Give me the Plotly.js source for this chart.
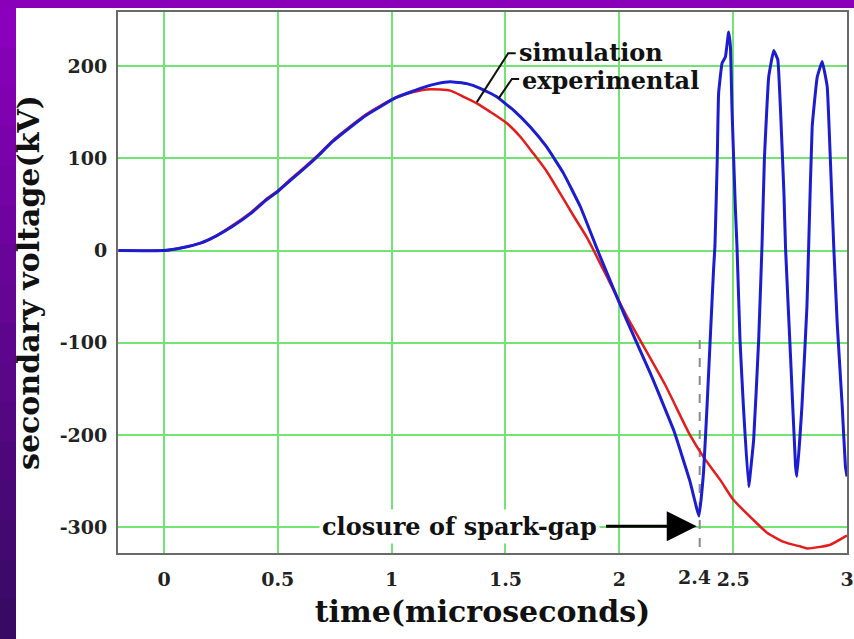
<!DOCTYPE html>
<html>
<head>
<meta charset="utf-8">
<script src="https://cdn.plot.ly/plotly-3.0.1.min.js"></script>
<style>html,body{margin:0;padding:0;background:#8a00b8;}#chart{width:854px;height:639px;}</style>
</head>
<body>
<div id="chart"></div>
<script>
// ---- data ----
const simT = [-0.2, 0, 0.08, 0.16, 0.23, 0.30, 0.38, 0.45, 0.50, 0.55, 0.63, 0.67, 0.74, 0.82, 0.89, 0.95, 1.02, 1.095, 1.17, 1.257, 1.314, 1.374, 1.433, 1.506, 1.565, 1.622, 1.682, 1.74, 1.798, 1.858, 1.9, 2.03, 2.2, 2.31, 2.37, 2.444, 2.5, 2.605, 2.649, 2.722, 2.796, 2.825, 2.927, 2.993, 3.0];
const simV = [0, 0, 3, 8, 16, 27, 41, 56, 65, 76, 93, 102, 119, 135, 148, 157, 166, 172, 175, 173.4, 167, 159.6, 150.4, 138, 123.4, 105.4, 85.5, 62, 38, 14, -6, -70, -145, -200, -224, -249, -270, -296, -306, -316, -321, -323, -319, -310, -309];

const expT = [-0.2, 0, 0.08, 0.16, 0.23, 0.30, 0.38, 0.45, 0.50, 0.55, 0.63, 0.67, 0.74, 0.82, 0.89, 0.95, 1.02, 1.14, 1.2, 1.257, 1.33, 1.389, 1.46, 1.536, 1.609, 1.68, 1.755, 1.829, 1.887, 1.91, 2.026, 2.136, 2.239, 2.31, 2.35, 2.37, 2.385, 2.4, 2.414, 2.42, 2.43, 2.436, 2.451, 2.466, 2.48, 2.488, 2.495, 2.51, 2.517, 2.53, 2.545, 2.568, 2.59, 2.612, 2.627, 2.637, 2.656, 2.678, 2.696, 2.708, 2.723, 2.73, 2.752, 2.774, 2.78, 2.802, 2.824, 2.832, 2.847, 2.869, 2.891, 2.913, 2.927, 2.942, 2.957, 2.979, 2.993, 3.0];
const expV = [0, 0, 3, 8, 16, 26, 40, 55, 64, 75, 92, 101, 118, 134, 147, 156, 166, 177, 181, 183, 181, 176, 167, 152, 134, 112.6, 83.7, 47.5, 11.4, -3, -72, -133, -195, -250, -288, -240, -170, -92, -20, 5, 98, 170, 203, 210, 237, 221, 152, 44, 3, -97, -169, -256, -205, -97, 8, 98, 188, 217, 207, 152, 62, 3, -115, -234, -245, -169, -61, 8, 134, 188, 205, 178, 98, 3, -79, -169, -234, -245];

const xTickVals = [0, 0.5, 1, 1.5, 2, 2.5, 3];
const xTickText = ['0', '0.5', '1', '1.5', '2', '2.5', '3'];
const yTickVals = [-300, -200, -100, 0, 100, 200];
const yTickText = ['-300', '-200', '-100', '0', '100', '200'];

const sparkGapT = 2.353;          // closure of spark-gap (dashed marker)
const sparkGapTickText = '2.4';
const sparkGapLabelT = 2.33;

const xRange = [-0.202, 3.0];
const yRange = [-328, 258.7];

// ---- layout geometry ----
const W = 854, H = 639;
const M = {l: 118, r: 7, t: 12, b: 86, pad: 0};
const pw = W - M.l - M.r, ph = H - M.t - M.b;
const px2paperX = p => (p - M.l) / pw;
const py2paperY = p => (H - M.b - p) / ph;

const FONT = 'DejaVu Serif, Liberation Serif, serif';
const TICK_SIZE = 19;

const shapes = [];
// white panel
shapes.push({type: 'rect', xref: 'paper', yref: 'paper', layer: 'below',
  x0: px2paperX(16), x1: px2paperX(W + 2), y0: py2paperY(H + 2), y1: py2paperY(8),
  fillcolor: '#ffffff', line: {width: 0}});
// left gradient strip
const nSeg = 16;
const cTop = [138, 0, 188], cBot = [56, 10, 100];
for (let i = 0; i < nSeg; i++) {
  const f = i / (nSeg - 1);
  const c = cTop.map((v, k) => Math.round(v + (cBot[k] - v) * f));
  shapes.push({type: 'rect', xref: 'paper', yref: 'paper', layer: 'below',
    x0: px2paperX(-2), x1: px2paperX(16),
    y0: py2paperY(8 + (H - 8) * (i + 1) / nSeg + 1), y1: py2paperY(8 + (H - 8) * i / nSeg),
    fillcolor: 'rgb(' + c.join(',') + ')', line: {width: 0}});
}
// dashed spark-gap marker
shapes.push({type: 'line', xref: 'x', yref: 'y', layer: 'between',
  x0: sparkGapT, x1: sparkGapT, y0: -97, y1: yRange[0],
  line: {color: '#8a8a8a', width: 2, dash: 'dash'}});
// leader lines from labels to curves
shapes.push({type: 'path', xref: 'x', yref: 'y', layer: 'above',
  path: 'M 1.545 214 L 1.512 214 L 1.374 161', line: {color: '#111', width: 2}});
shapes.push({type: 'path', xref: 'x', yref: 'y', layer: 'above',
  path: 'M 1.56 186 L 1.528 186 L 1.47 165', line: {color: '#111', width: 2}});

const annotations = [
  {x: 1.55, y: 215, xref: 'x', yref: 'y', xanchor: 'left', yanchor: 'middle', showarrow: false,
   text: '<b>simulation</b>', font: {family: FONT, size: 24, color: '#111'}},
  {x: 1.565, y: 184, xref: 'x', yref: 'y', xanchor: 'left', yanchor: 'middle', showarrow: false,
   text: '<b>experimental</b>', font: {family: FONT, size: 24, color: '#111'}},
  {x: 1.296, y: -299, xref: 'x', yref: 'y', xanchor: 'center', yanchor: 'middle', showarrow: false,
   text: '<b>closure of spark-gap</b>', bgcolor: '#ffffff', borderpad: 2,
   font: {family: FONT, size: 24, color: '#111'}},
  {x: 2.34, y: -299, ax: 1.935, ay: -299, xref: 'x', yref: 'y', axref: 'x', ayref: 'y',
   text: '', showarrow: true, arrowhead: 2, arrowsize: 2, arrowwidth: 3, arrowcolor: '#000'},
  {x: sparkGapLabelT, y: 0, xref: 'x', yref: 'paper', xanchor: 'center', yanchor: 'top', yshift: -11,
   showarrow: false, text: '<b>' + sparkGapTickText + '</b>', font: {family: FONT, size: TICK_SIZE, color: '#222'}}
];

const traces = [
  {x: simT, y: simV, type: 'scatter', mode: 'lines', name: 'simulation',
   line: {color: '#e31c1c', width: 2.5, shape: 'spline', smoothing: 0.6}},
  {x: expT, y: expV, type: 'scatter', mode: 'lines', name: 'experimental',
   line: {color: '#1c1cd0', width: 3, shape: 'spline', smoothing: 0.3}}
];

const layout = {
  width: W, height: H, margin: M,
  paper_bgcolor: '#8a00b8', plot_bgcolor: '#ffffff',
  showlegend: false,
  font: {family: FONT, color: '#222'},
  xaxis: {
    range: xRange, tickmode: 'array', tickvals: xTickVals, ticktext: xTickText,
    showgrid: true, gridcolor: '#72e472', gridwidth: 2, zeroline: false,
    showline: true, mirror: true, linecolor: '#6a6a6a', linewidth: 2,
    ticks: 'outside', ticklen: 8, tickcolor: 'rgba(0,0,0,0)',
    tickfont: {family: FONT, size: TICK_SIZE, color: '#222', weight: 'bold'},
    title: {text: '<b>time(microseconds)</b>', standoff: 12, font: {family: FONT, size: 30, color: '#111'}}
  },
  yaxis: {
    range: yRange, tickmode: 'array', tickvals: yTickVals, ticktext: yTickText,
    showgrid: true, gridcolor: '#72e472', gridwidth: 2, zeroline: false,
    showline: true, mirror: true, linecolor: '#6a6a6a', linewidth: 2,
    ticks: 'outside', ticklen: 5, tickcolor: 'rgba(0,0,0,0)',
    tickfont: {family: FONT, size: TICK_SIZE, color: '#222', weight: 'bold'},
    title: {text: '<b>secondary voltage(kV)</b>', standoff: 11, font: {family: FONT, size: 30, color: '#111'}}
  },
  shapes: shapes,
  annotations: annotations
};

Plotly.newPlot('chart', traces, layout, {displayModeBar: false, staticPlot: true});
</script>
</body>
</html>
